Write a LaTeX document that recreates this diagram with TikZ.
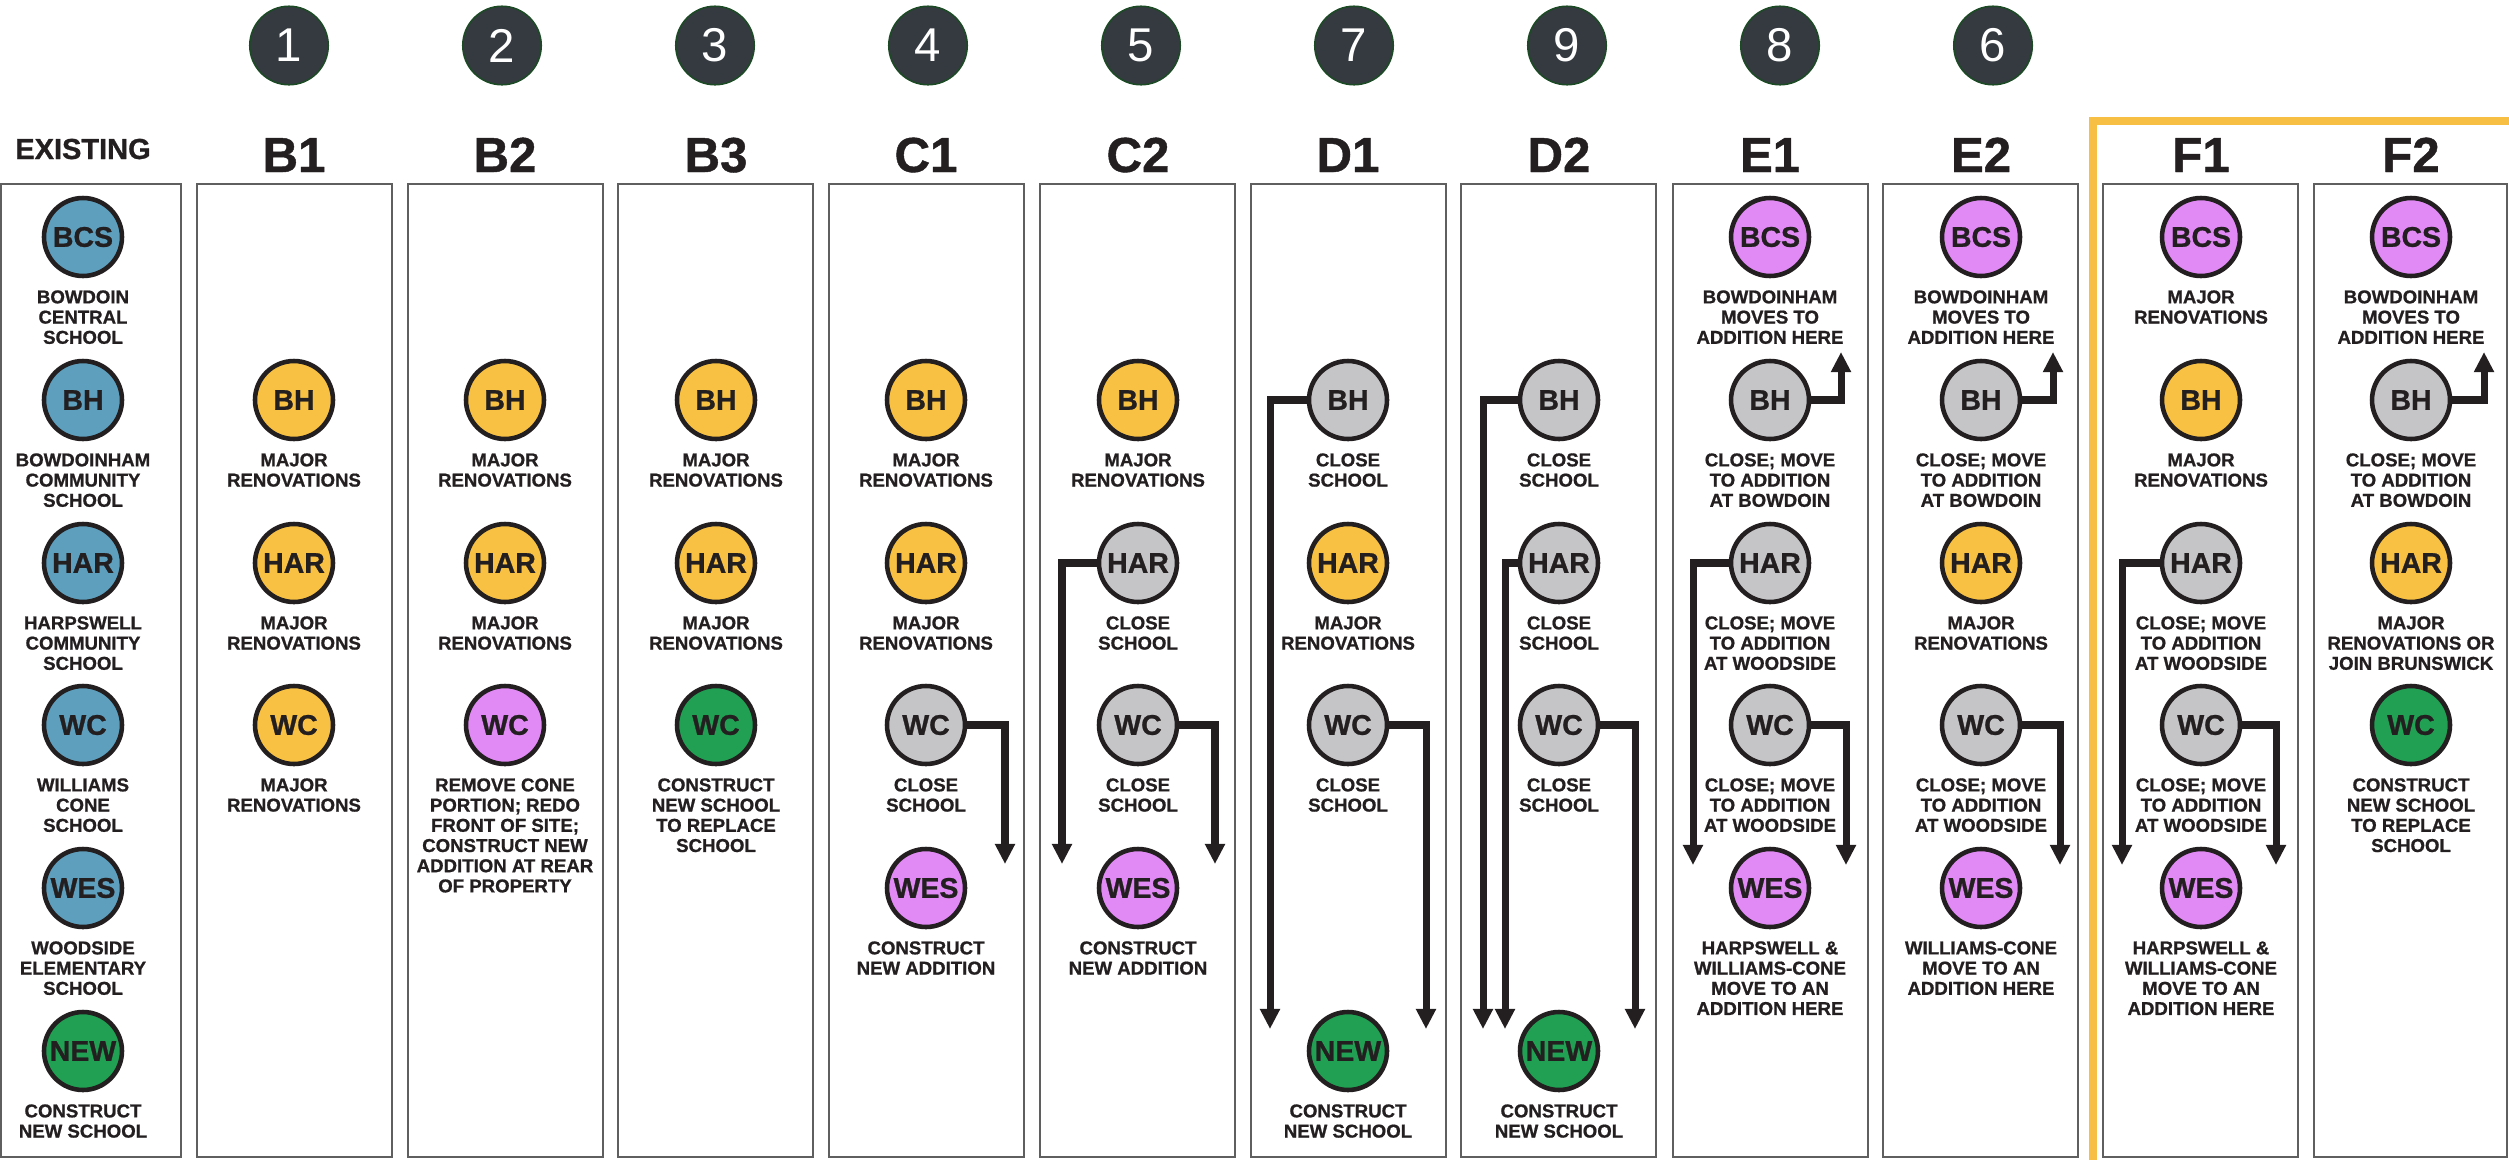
\documentclass[tikz,border=0pt]{standalone}
\usepackage{fontspec}
\setmainfont{Liberation Sans}[BoldFeatures={FakeBold=0.9}]
\usetikzlibrary{arrows.meta}
\definecolor{exblue}{HTML}{5E9FBE}
\definecolor{renoyellow}{HTML}{F8C144}
\definecolor{closegrey}{HTML}{C5C5C7}
\definecolor{addpink}{HTML}{E18AF5}
\definecolor{newgreen}{HTML}{21A053}
\definecolor{numdark}{HTML}{343A40}
\definecolor{numrim}{HTML}{1C4A25}
\definecolor{frameorange}{HTML}{F8BF45}
\definecolor{ink}{HTML}{231F20}
\definecolor{panelgrey}{HTML}{5F5F5F}

\begin{document}
\begin{tikzpicture}[x=0.02cm,y=-0.02cm,
    panelbox/.style={draw=panelgrey,line width=1.1pt},
    schoolball/.style={circle,draw=ink,line width=2.6pt,minimum size=1.56cm,inner sep=0pt,text=ink,font=\fontsize{16.2}{18}\selectfont\bfseries},
    blueball/.style={schoolball,fill=exblue},
    yellowball/.style={schoolball,fill=renoyellow},
    greyball/.style={schoolball,fill=closegrey},
    pinkball/.style={schoolball,fill=addpink},
    greenball/.style={schoolball,fill=newgreen},
    notetext/.style={anchor=north,align=center,inner sep=0pt,text=ink,font=\fontsize{10.6}{11.5}\selectfont\bfseries},
    colhead/.style={anchor=base,inner sep=0pt,text=ink,font=\fontsize{28}{30}\selectfont\bfseries},
    numball/.style={circle,draw=numrim,fill=numdark,line width=0.9pt,minimum size=1.57cm,inner sep=0pt,text=white,font=\fontsize{27}{30}\selectfont},
    flowline/.style={-{Triangle[length=11.4pt,width=10.8pt]},line width=4pt,draw=ink}]
    \useasboundingbox(0,0)rectangle(2509,1160);
    \draw[line width=4.5pt,frameorange](2093,1160)|-(2509,121);
    \draw[panelbox](1,184)rectangle(181,1157);
    \draw[panelbox](197,184)rectangle(392,1157);
    \draw[panelbox](408,184)rectangle(603,1157);
    \draw[panelbox](618,184)rectangle(813,1157);
    \draw[panelbox](829,184)rectangle(1024,1157);
    \draw[panelbox](1040,184)rectangle(1235,1157);
    \draw[panelbox](1251,184)rectangle(1446,1157);
    \draw[panelbox](1461,184)rectangle(1656,1157);
    \draw[panelbox](1673,184)rectangle(1868,1157);
    \draw[panelbox](1883,184)rectangle(2078,1157);
    \draw[panelbox](2103,184)rectangle(2298,1157);
    \draw[panelbox](2314,184)rectangle(2507,1157);

    \node[numball](n1)at(289,45.5){1};
    \node[numball](n2)at(502,45.5){2};
    \node[numball](n3)at(715,45.5){3};
    \node[numball](n4)at(928,45.5){4};
    \node[numball](n5)at(1141,45.5){5};
    \node[numball](n7)at(1354,45.5){7};
    \node[numball](n9)at(1567,45.5){9};
    \node[numball](n8)at(1780,45.5){8};
    \node[numball](n6)at(1993,45.5){6};

    \node[colhead,font=\fontsize{16.5}{18}\selectfont\bfseries](exhead)at(83,159){EXISTING};
    \node[colhead](b1head)at(294,172){B1};
    \node[colhead](b2head)at(505,172){B2};
    \node[colhead](b3head)at(716,172){B3};
    \node[colhead](c1head)at(926,172){C1};
    \node[colhead](c2head)at(1138,172){C2};
    \node[colhead](d1head)at(1348,172){D1};
    \node[colhead](d2head)at(1559,172){D2};
    \node[colhead](e1head)at(1770,172){E1};
    \node[colhead](e2head)at(1981,172){E2};
    \node[colhead](f1head)at(2201,172){F1};
    \node[colhead](f2head)at(2411,172){F2};

    \node[blueball](exbcs)at(83,237){BCS};
    \node[notetext](exbcsnote)at(83,290){BOWDOIN\\CENTRAL\\SCHOOL};
    \node[blueball](exbh)at(83,400){BH};
    \node[notetext](exbhnote)at(83,453){BOWDOINHAM\\COMMUNITY\\SCHOOL};
    \node[blueball](exhar)at(83,563){HAR};
    \node[notetext](exharnote)at(83,616){HARPSWELL\\COMMUNITY\\SCHOOL};
    \node[blueball](exwc)at(83,725){WC};
    \node[notetext](exwcnote)at(83,778){WILLIAMS\\CONE\\SCHOOL};
    \node[blueball](exwes)at(83,888){WES};
    \node[notetext](exwesnote)at(83,941){WOODSIDE\\ELEMENTARY\\SCHOOL};
    \node[greenball](exnew)at(83,1051){NEW};
    \node[notetext](exnewnote)at(83,1104){CONSTRUCT\\NEW SCHOOL};

    \node[yellowball](b1bh)at(294,400){BH};
    \node[notetext](b1bhnote)at(294,453){MAJOR\\RENOVATIONS};
    \node[yellowball](b1har)at(294,563){HAR};
    \node[notetext](b1harnote)at(294,616){MAJOR\\RENOVATIONS};
    \node[yellowball](b1wc)at(294,725){WC};
    \node[notetext](b1wcnote)at(294,778){MAJOR\\RENOVATIONS};

    \node[yellowball](b2bh)at(505,400){BH};
    \node[notetext](b2bhnote)at(505,453){MAJOR\\RENOVATIONS};
    \node[yellowball](b2har)at(505,563){HAR};
    \node[notetext](b2harnote)at(505,616){MAJOR\\RENOVATIONS};
    \node[pinkball](b2wc)at(505,725){WC};
    \node[notetext](b2wcnote)at(505,778){REMOVE CONE\\PORTION; REDO\\FRONT OF SITE;\\CONSTRUCT NEW\\ADDITION AT REAR\\OF PROPERTY};

    \node[yellowball](b3bh)at(716,400){BH};
    \node[notetext](b3bhnote)at(716,453){MAJOR\\RENOVATIONS};
    \node[yellowball](b3har)at(716,563){HAR};
    \node[notetext](b3harnote)at(716,616){MAJOR\\RENOVATIONS};
    \node[greenball](b3wc)at(716,725){WC};
    \node[notetext](b3wcnote)at(716,778){CONSTRUCT\\NEW SCHOOL\\TO REPLACE\\SCHOOL};

    \node[yellowball](c1bh)at(926,400){BH};
    \node[notetext](c1bhnote)at(926,453){MAJOR\\RENOVATIONS};
    \node[yellowball](c1har)at(926,563){HAR};
    \node[notetext](c1harnote)at(926,616){MAJOR\\RENOVATIONS};
    \node[greyball](c1wc)at(926,725){WC};
    \node[notetext](c1wcnote)at(926,778){CLOSE\\SCHOOL};
    \node[pinkball](c1wes)at(926,888){WES};
    \node[notetext](c1wesnote)at(926,941){CONSTRUCT\\NEW ADDITION};

    \node[yellowball](c2bh)at(1138,400){BH};
    \node[notetext](c2bhnote)at(1138,453){MAJOR\\RENOVATIONS};
    \node[greyball](c2har)at(1138,563){HAR};
    \node[notetext](c2harnote)at(1138,616){CLOSE\\SCHOOL};
    \node[greyball](c2wc)at(1138,725){WC};
    \node[notetext](c2wcnote)at(1138,778){CLOSE\\SCHOOL};
    \node[pinkball](c2wes)at(1138,888){WES};
    \node[notetext](c2wesnote)at(1138,941){CONSTRUCT\\NEW ADDITION};

    \node[greyball](d1bh)at(1348,400){BH};
    \node[notetext](d1bhnote)at(1348,453){CLOSE\\SCHOOL};
    \node[yellowball](d1har)at(1348,563){HAR};
    \node[notetext](d1harnote)at(1348,616){MAJOR\\RENOVATIONS};
    \node[greyball](d1wc)at(1348,725){WC};
    \node[notetext](d1wcnote)at(1348,778){CLOSE\\SCHOOL};
    \node[greenball](d1new)at(1348,1051){NEW};
    \node[notetext](d1newnote)at(1348,1104){CONSTRUCT\\NEW SCHOOL};

    \node[greyball](d2bh)at(1559,400){BH};
    \node[notetext](d2bhnote)at(1559,453){CLOSE\\SCHOOL};
    \node[greyball](d2har)at(1559,563){HAR};
    \node[notetext](d2harnote)at(1559,616){CLOSE\\SCHOOL};
    \node[greyball](d2wc)at(1559,725){WC};
    \node[notetext](d2wcnote)at(1559,778){CLOSE\\SCHOOL};
    \node[greenball](d2new)at(1559,1051){NEW};
    \node[notetext](d2newnote)at(1559,1104){CONSTRUCT\\NEW SCHOOL};

    \node[pinkball](e1bcs)at(1770,237){BCS};
    \node[notetext](e1bcsnote)at(1770,290){BOWDOINHAM\\MOVES TO\\ADDITION HERE};
    \node[greyball](e1bh)at(1770,400){BH};
    \node[notetext](e1bhnote)at(1770,453){CLOSE; MOVE\\TO ADDITION\\AT BOWDOIN};
    \node[greyball](e1har)at(1770,563){HAR};
    \node[notetext](e1harnote)at(1770,616){CLOSE; MOVE\\TO ADDITION\\AT WOODSIDE};
    \node[greyball](e1wc)at(1770,725){WC};
    \node[notetext](e1wcnote)at(1770,778){CLOSE; MOVE\\TO ADDITION\\AT WOODSIDE};
    \node[pinkball](e1wes)at(1770,888){WES};
    \node[notetext](e1wesnote)at(1770,941){HARPSWELL \&\\WILLIAMS-CONE\\MOVE TO AN\\ADDITION HERE};

    \node[pinkball](e2bcs)at(1981,237){BCS};
    \node[notetext](e2bcsnote)at(1981,290){BOWDOINHAM\\MOVES TO\\ADDITION HERE};
    \node[greyball](e2bh)at(1981,400){BH};
    \node[notetext](e2bhnote)at(1981,453){CLOSE; MOVE\\TO ADDITION\\AT BOWDOIN};
    \node[yellowball](e2har)at(1981,563){HAR};
    \node[notetext](e2harnote)at(1981,616){MAJOR\\RENOVATIONS};
    \node[greyball](e2wc)at(1981,725){WC};
    \node[notetext](e2wcnote)at(1981,778){CLOSE; MOVE\\TO ADDITION\\AT WOODSIDE};
    \node[pinkball](e2wes)at(1981,888){WES};
    \node[notetext](e2wesnote)at(1981,941){WILLIAMS-CONE\\MOVE TO AN\\ADDITION HERE};

    \node[pinkball](f1bcs)at(2201,237){BCS};
    \node[notetext](f1bcsnote)at(2201,290){MAJOR\\RENOVATIONS};
    \node[yellowball](f1bh)at(2201,400){BH};
    \node[notetext](f1bhnote)at(2201,453){MAJOR\\RENOVATIONS};
    \node[greyball](f1har)at(2201,563){HAR};
    \node[notetext](f1harnote)at(2201,616){CLOSE; MOVE\\TO ADDITION\\AT WOODSIDE};
    \node[greyball](f1wc)at(2201,725){WC};
    \node[notetext](f1wcnote)at(2201,778){CLOSE; MOVE\\TO ADDITION\\AT WOODSIDE};
    \node[pinkball](f1wes)at(2201,888){WES};
    \node[notetext](f1wesnote)at(2201,941){HARPSWELL \&\\WILLIAMS-CONE\\MOVE TO AN\\ADDITION HERE};

    \node[pinkball](f2bcs)at(2411,237){BCS};
    \node[notetext](f2bcsnote)at(2411,290){BOWDOINHAM\\MOVES TO\\ADDITION HERE};
    \node[greyball](f2bh)at(2411,400){BH};
    \node[notetext](f2bhnote)at(2411,453){CLOSE; MOVE\\TO ADDITION\\AT BOWDOIN};
    \node[yellowball](f2har)at(2411,563){HAR};
    \node[notetext](f2harnote)at(2411,616){MAJOR\\RENOVATIONS OR\\JOIN BRUNSWICK};
    \node[greenball](f2wc)at(2411,725){WC};
    \node[notetext](f2wcnote)at(2411,778){CONSTRUCT\\NEW SCHOOL\\TO REPLACE\\SCHOOL};

    \coordinate(c1wcend)at(1005,864);
    \coordinate(c2harend)at(1062,864);
    \coordinate(c2wcend)at(1215,864);
    \coordinate(d1bhend)at(1270,1029);
    \coordinate(d1wcend)at(1426,1029);
    \coordinate(d2bhend)at(1483,1029);
    \coordinate(d2harend)at(1505,1029);
    \coordinate(d2wcend)at(1635,1029);
    \coordinate(e1bhend)at(1841,352);
    \coordinate(e1harend)at(1693,865);
    \coordinate(e1wcend)at(1846,865);
    \coordinate(e2bhend)at(2053,352);
    \coordinate(e2wcend)at(2060,865);
    \coordinate(f1harend)at(2122,865);
    \coordinate(f1wcend)at(2276,865);
    \coordinate(f2bhend)at(2484,352);

    \draw[flowline](c1wc.east)-|(c1wcend);
    \draw[flowline](c2har.west)-|(c2harend);
    \draw[flowline](c2wc.east)-|(c2wcend);
    \draw[flowline](d1bh.west)-|(d1bhend);
    \draw[flowline](d1wc.east)-|(d1wcend);
    \draw[flowline](d2bh.west)-|(d2bhend);
    \draw[flowline](d2har.west)-|(d2harend);
    \draw[flowline](d2wc.east)-|(d2wcend);
    \draw[flowline](e1bh.east)-|(e1bhend);
    \draw[flowline](e1har.west)-|(e1harend);
    \draw[flowline](e1wc.east)-|(e1wcend);
    \draw[flowline](e2bh.east)-|(e2bhend);
    \draw[flowline](e2wc.east)-|(e2wcend);
    \draw[flowline](f1har.west)-|(f1harend);
    \draw[flowline](f1wc.east)-|(f1wcend);
    \draw[flowline](f2bh.east)-|(f2bhend);
\end{tikzpicture}
\end{document}
